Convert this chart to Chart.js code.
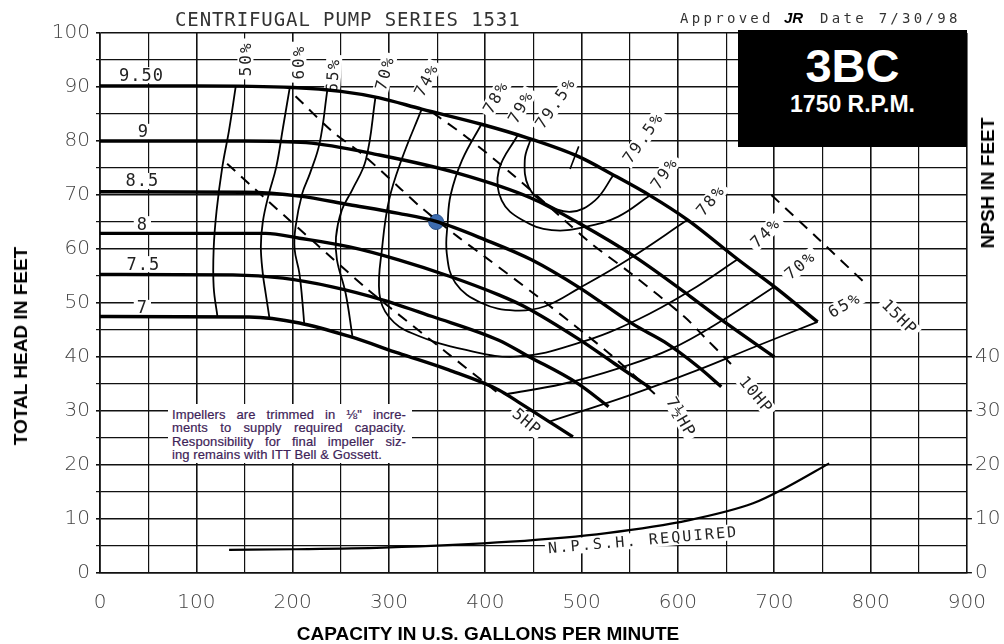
<!DOCTYPE html>
<html>
<head>
<meta charset="utf-8">
<title>Centrifugal Pump Series 1531 - 3BC 1750 RPM</title>
<script src="https://cdn.jsdelivr.net/npm/chart.js@4.4.1/dist/chart.umd.min.js"></script>
<style>
    html, body { margin: 0; padding: 0; background: #fff; }
    #wrap { position: relative; width: 1004px; height: 644px; overflow: hidden; }
    #chart { position: absolute; left: 0; top: 0; }
    .txt { position: absolute; white-space: nowrap; line-height: 1; }
    .title { left: 175px; top: 8px; font: 19px "DejaVu Sans Mono", monospace; letter-spacing: 0.9px; color: #333; }
    .appr { top: 10px; font: 14px "DejaVu Sans Mono", monospace; letter-spacing: 3.3px; color: #333; }
    .sig { left: 784px; top: 9px; font: italic bold 15px "Liberation Sans", sans-serif; color: #000; }
    .model { left: 738px; top: 30px; width: 229px; height: 117px; background: #000; color: #fff; }
    .model div { position: absolute; left: 0; width: 100%; text-align: center; font-family: "Liberation Sans", Arial, sans-serif; font-weight: bold; line-height: 1; }
    .axis { font: bold 19px "Liberation Sans", Arial, sans-serif; color: #000; transform: translate(-50%, -50%); }
    .axis.rot { transform: translate(-50%, -50%) rotate(-90deg); }
    .note { position: absolute; left: 168px; top: 404px; width: 244px; height: 59px; background: #fff; padding-top: 4px; box-sizing: border-box; }
    .note div { margin-left: 4px; width: 234px; font: 13px "Liberation Sans", Arial, sans-serif; letter-spacing: 0.1px; line-height: 13.4px; color: #3e2358; -webkit-text-stroke: 0.2px #3e2358; text-align: justify; text-align-last: justify; white-space: nowrap; }
    .note div.last { text-align-last: left; }
</style>
</head>
<body>
<div id="wrap">
    <canvas id="chart" width="1004" height="644"></canvas>
    <div class="txt title">CENTRIFUGAL PUMP SERIES 1531</div>
    <div class="txt appr" style="left:680px">Approved</div>
    <div class="txt sig">JR</div>
    <div class="txt appr" style="left:820px">Date 7/30/98</div>
    <div class="txt model">
        <div style="top:12px; font-size:47px">3BC</div>
        <div style="top:63px; font-size:23px">1750 R.P.M.</div>
    </div>
    <div class="txt axis rot" style="left:21px; top:346px">TOTAL HEAD IN FEET</div>
    <div class="txt axis" style="left:488px; top:634px">CAPACITY IN U.S. GALLONS PER MINUTE</div>
    <div class="txt axis rot" style="left:988px; top:183px">NPSH IN FEET</div>
    <div class="note">
        <div>Impellers are trimmed in ⅛" incre-</div>
        <div>ments to supply required capacity.</div>
        <div>Responsibility for final impeller siz-</div>
        <div class="last">ing remains with ITT Bell &amp; Gossett.</div>
    </div>
</div>
<script>
// axis ticks
const flowTicks = [0, 100, 200, 300, 400, 500, 600, 700, 800, 900];
const headTicks = [0, 10, 20, 30, 40, 50, 60, 70, 80, 90, 100];
const npshTicks = [0, 10, 20, 30, 40];

// impeller curves, [gpm, ft]
const imp950 = [[0, 90.2], [100, 90.2], [200, 89.9], [250, 89.2], [290, 88], [334, 85.9], [396, 83.1], [445, 80.5], [497, 77.1], [531, 73.9], [572, 69.8], [610, 65.4], [662, 58.1], [703, 52.6], [745, 46.5]];
const imp9 = [[0, 80], [150, 80], [214, 79.7], [290, 77.4], [372, 74], [448, 69.4], [497, 64.8], [555, 58.6], [613, 51.2], [645, 46.9], [700, 40]];
const imp85 = [[0, 70.6], [150, 70.5], [207, 69.8], [259, 68.2], [310, 66.6], [349, 65.1], [400, 61.7], [448, 58], [498, 52.8], [555, 45.9], [586, 42.8], [621, 38.2], [645, 34.5]];
const imp8 = [[0, 62.9], [172, 62.9], [207, 62], [259, 60.4], [310, 58], [362, 55], [414, 51.5], [441, 49.3], [497, 43.3], [534, 38.8], [572, 34.2]];
const imp75 = [[0, 55.3], [138, 55.2], [190, 54.6], [241, 53], [293, 50.6], [345, 47.5], [414, 43.1], [445, 40.1], [495, 35.2], [528, 30.8]];
const imp7 = [[0, 47.5], [155, 47.4], [207, 46.3], [259, 43.8], [310, 40.7], [362, 37.6], [414, 33.9], [434, 31.7], [491, 25.2]];

// efficiency contours
const eff50 = [[141, 90.2], [134, 82], [127, 75.2], [121, 67], [118, 60], [118, 53], [122, 47.4]];
const eff60 = [[197, 89.9], [190, 82.5], [183, 75.2], [175, 70], [169, 65], [167, 60.4], [169, 55.5], [172, 51.8], [176, 47.1]];
const eff65 = [[236, 89.4], [228, 79.6], [218, 74], [210, 70.3], [203, 64.1], [202, 60], [207, 55.5], [210, 50.5], [212, 46.2]];
const eff70 = [[286, 88.1], [276, 76.5], [262, 71], [251, 67.2], [245, 62.2], [246, 58], [255, 51.8], [262, 43.9]];
const eff74 = [[334, 85.9], [313, 76.5], [300, 69], [293, 60.4], [290, 51.8], [300, 47.4], [324, 44.4], [380, 41.3], [434, 40.1], [497, 42.6], [559, 47], [613, 52.3], [662, 58.1]];
const eff78 = [[396, 83.1], [376, 76.5], [364, 70], [361, 65], [360, 59.2], [369, 53.7], [396, 50], [431, 48.6], [462, 49.4], [498, 52.8], [548, 58], [610, 65.4]];
const eff79 = [[434, 81.2], [414, 74.6], [417, 69], [438, 65.4], [469, 63.5], [504, 64.1], [538, 66], [570, 69.8]];
const eff795 = [[447, 80.3], [441, 76.5], [445, 71.5], [462, 68.5], [489, 66.9], [514, 69], [533, 73.7]];
const eff70r = [[421, 33.1], [480, 35], [540, 38], [593, 41.5], [648, 47], [700, 53]];
const eff65r = [[466, 28], [548, 32.8], [621, 37.6], [680, 41.9], [745, 46.5]];
const bepTick = [[497, 79], [488, 74.8]];

// horsepower lines
const hp5 = [[132, 75.8], [170, 69.6], [207, 63.7], [241, 58.3], [276, 52.8], [300, 49.3], [360, 40.8], [412, 33.5]];
const hp75 = [[203, 88.3], [241, 81.8], [272, 77.6], [310, 71.5], [334, 67.6], [372, 62.2], [400, 58.5], [455, 51.1], [493, 45.8], [531, 40.3], [577, 33]];
const hp10 = [[345, 85.3], [380, 80.8], [427, 74], [483, 65.2], [510, 61], [551, 55.5], [607, 47.4], [628, 43.6], [648, 40], [660, 37.8]];
const hp15 = [[697, 70], [745, 62], [797, 53.2]];

// NPSH required and duty point
const npsh = [[134, 4.3], [200, 4.4], [294, 4.7], [426, 5.8], [526, 7.4], [612, 9.8], [678, 12.9], [711, 15.7], [757, 20.3]];
const dutyPoint = [[349, 65]];

// label placements: text, gpm, ft, rotation
const diaLabels = [['9.50', 43, 92.2], ['9', 45, 81.7], ['8.5', 44, 72.6], ['8', 44, 64.6], ['7.5', 45, 57.2], ['7', 44, 49.1]];
const effLabels = [['50%', 151, 95.2, -90], ['60%', 206, 94.6, -90], ['65%', 242, 92.2, -86], ['70%', 296, 92.6, -75], ['74%', 339, 91.3, -63],
    ['78%', 411, 88.1, -60], ['79%', 437, 86.3, -60], ['79.5%', 473, 87, -55], ['79.5%', 564, 80.6, -55], ['79%', 586, 74, -55],
    ['78%', 634, 69, -50], ['74%', 691, 63, -45], ['70%', 727, 57, -40], ['65%', 773, 49.6, -30]];
const hpLabels = [['5HP', 443, 28, 40], ['7½HP', 603, 28.9, 60], ['10HP', 681, 33, 50], ['15HP', 830, 47.4, 45]];
const npshLabel = ['N.P.S.H. REQUIRED', 564, 6.1, -5];

const pts = arr => arr.map(([x, y]) => ({ x, y }));
const line = (data, width, extra = {}) => ({ data: pts(data), showLine: true, borderColor: '#000', borderWidth: width, pointRadius: 0, fill: false, ...extra });

const labelPlugin = {
    id: 'curveLabels',
    beforeDatasetsDraw(chart) {
        const { ctx, scales: { x, y } } = chart;
        const draw = (text, q, h, rot, font, spacing, boxH) => {
            ctx.save();
            ctx.translate(x.getPixelForValue(q), y.getPixelForValue(h));
            ctx.rotate(rot * Math.PI / 180);
            ctx.font = font;
            ctx.letterSpacing = spacing;
            const w = ctx.measureText(text).width;
            ctx.fillStyle = '#fff';
            ctx.fillRect(-w / 2 - 3, -boxH / 2, w + 6, boxH);
            ctx.fillStyle = '#222';
            ctx.textAlign = 'center';
            ctx.textBaseline = 'middle';
            ctx.fillText(text, 0, 1);
            ctx.restore();
        };
        diaLabels.forEach(([t, q, h]) => draw(t, q, h, 0, '17px "DejaVu Sans Mono"', '1px', 16));
        effLabels.forEach(([t, q, h, r]) => draw(t, q, h, r, '16px "DejaVu Sans Mono"', '2px', 16));
        hpLabels.forEach(([t, q, h, r]) => draw(t, q, h, r, '16px "DejaVu Sans Mono"', '1px', 16));
        draw(npshLabel[0], npshLabel[1], npshLabel[2], npshLabel[3], '15px "DejaVu Sans Mono"', '2.2px', 16);
    }
};

const gridW = (ticks, major) => c => (c.tick && ticks.includes(c.tick.value) ? major : 1.2);
const tickFont = { family: 'DejaVu Sans', size: 20, weight: 200 };

new Chart(document.getElementById('chart'), {
    type: 'scatter',
    data: {
        datasets: [
            ...[imp950, imp9, imp85, imp8, imp75, imp7].map(c => line(c, 3.4, { cubicInterpolationMode: 'monotone' })),
            ...[eff50, eff60, eff65, eff70, eff74, eff78, eff79, eff795, eff70r, eff65r].map(c => line(c, 1.8, { tension: 0.4 })),
            line(bepTick, 1.6),
            ...[hp5, hp75, hp10, hp15].map(c => line(c, 2, { tension: 0.3, borderDash: [11, 8] })),
            line(npsh, 2.2, { cubicInterpolationMode: 'monotone' }),
            { data: pts(dutyPoint), pointRadius: 7.5, backgroundColor: '#3d6cb0', borderColor: '#2b5189', borderWidth: 1 }
        ]
    },
    options: {
        responsive: false,
        animation: false,
        devicePixelRatio: 1,
        layout: { padding: { top: 33, left: 0, right: 0, bottom: 0 } },
        plugins: { legend: { display: false }, tooltip: { enabled: false } },
        scales: {
            x: {
                type: 'linear', min: 0, max: 900,
                afterFit: s => { s.height = 71; },
                ticks: { stepSize: 50, autoSkip: false, maxRotation: 0, padding: 18, color: '#444', font: tickFont,
                    callback: v => (flowTicks.includes(v) ? v : '') },
                grid: { color: '#111', lineWidth: gridW(flowTicks, 1.6), drawTicks: false },
                border: { color: '#111', width: 1.6 }
            },
            y: {
                type: 'linear', min: 0, max: 100,
                afterFit: s => { s.width = 100; },
                ticks: { stepSize: 5, autoSkip: false, padding: 6, color: '#444', font: tickFont,
                    callback: v => (headTicks.includes(v) ? v : '') },
                grid: { color: '#111', lineWidth: gridW(headTicks, 1.6), tickLength: 4 },
                border: { color: '#111', width: 1.6 }
            },
            y2: {
                type: 'linear', position: 'right', min: 0, max: 100,
                afterFit: s => { s.width = 34; },
                ticks: { stepSize: 10, autoSkip: false, padding: 3, color: '#444', font: tickFont,
                    callback: v => (npshTicks.includes(v) ? v : '') },
                grid: { drawOnChartArea: false, tickLength: 5, lineWidth: 1.4,
                    color: c => (c.tick && npshTicks.includes(c.tick.value) ? '#111' : 'rgba(0,0,0,0)') },
                border: { display: false }
            }
        }
    },
    plugins: [labelPlugin]
});
</script>
</body>
</html>
